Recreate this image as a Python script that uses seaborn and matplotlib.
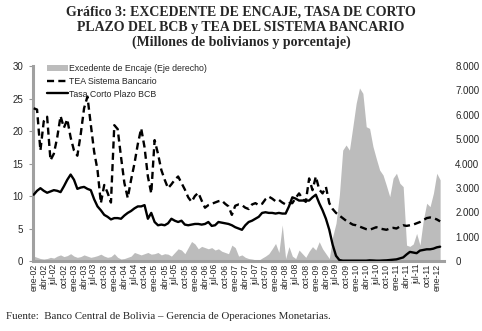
import numpy as np
import pandas as pd
import matplotlib
matplotlib.use("Agg")
import matplotlib.pyplot as plt
import seaborn as sns
from matplotlib.patches import Patch
from matplotlib.lines import Line2D
from matplotlib.ticker import FuncFormatter

# ---------------- data (monthly, ene-02 .. feb-12) ----------------
meses = ["ene", "feb", "mar", "abr", "may", "jun", "jul", "ago", "sep", "oct", "nov", "dic"]
periodos = [f"{meses[m]}-{y:02d}" for y in range(2, 13) for m in range(12)][:122]

tea_sistema = [
    23.5, 23.3, 17.0, 21.5, 22.2, 15.5, 16.5, 19.0, 22.3, 20.5, 21.8, 19.0,
    17.0, 16.2, 19.5, 23.5, 25.3, 21.0, 16.8, 14.0, 8.9, 11.7, 10.5, 9.0,
    20.9, 20.3, 16.0, 12.0, 9.7, 12.5, 15.0, 18.0, 20.4, 17.5, 13.0, 10.4,
    18.6, 16.5, 14.0, 12.5, 11.2, 11.8, 12.5, 13.0, 12.0, 11.0, 9.8, 9.1,
    10.0, 10.5, 9.3, 8.2, 8.6, 8.8, 9.0, 9.2, 9.3, 8.8, 8.4, 7.1,
    8.5, 8.7, 8.6, 8.2, 8.0, 8.7, 8.9, 8.6, 8.8, 9.5, 9.9, 9.6,
    9.2, 9.4, 9.0, 8.7, 8.9, 8.9, 9.7, 10.4, 9.6, 9.1, 12.7, 10.9,
    13.0, 11.0, 10.4, 11.4, 8.9, 8.0, 7.4, 7.0, 6.6, 6.2, 5.9, 5.6,
    5.5, 5.3, 5.1, 4.9, 4.8, 5.0, 5.2, 5.0, 4.9, 4.8, 5.0, 5.1,
    5.0, 5.3, 5.5, 5.4, 5.5, 5.6, 5.8, 6.0, 6.3, 6.6, 6.7, 6.6,
    6.4, 6.1,
]

tasa_bcb = [
    10.2, 10.8, 11.2, 10.8, 10.5, 10.7, 10.9, 10.8, 10.6, 11.5, 12.5, 13.3,
    12.5, 11.1, 11.3, 11.4, 11.1, 10.9, 9.5, 8.4, 7.8, 7.1, 6.8, 6.4,
    6.6, 6.6, 6.5, 7.0, 7.4, 7.7, 8.1, 8.4, 8.4, 8.6, 6.5, 7.4,
    6.0, 5.5, 5.6, 5.5, 5.8, 6.5, 6.2, 6.0, 6.2, 5.6, 5.5, 5.6,
    5.7, 5.7, 5.6, 5.7, 6.0, 5.4, 5.5, 6.0, 5.9, 5.8, 5.7, 5.5,
    5.2, 5.0, 4.8, 5.5, 6.0, 6.2, 6.5, 6.8, 7.4, 7.5, 7.4, 7.4,
    7.3, 7.4, 7.3, 7.3, 8.4, 9.8, 9.6, 9.3, 9.3, 9.3, 9.3, 9.8,
    10.2, 8.9, 7.8, 6.5, 4.8, 2.5, 0.8, 0.15, 0.05, 0.05, 0.05, 0.05,
    0.05, 0.05, 0.05, 0.05, 0.1, 0.08, 0.05, 0.05, 0.08, 0.1, 0.15, 0.2,
    0.25, 0.4, 0.55, 1.0, 1.4, 1.3, 1.2, 1.6, 1.7, 1.8, 1.8, 1.9,
    2.1, 2.2,
]

excedente = [
    200, 150, 100, 80, 100, 150, 120, 200, 250, 180, 220, 300,
    200, 150, 180, 250, 200, 150, 180, 220, 280, 200, 150, 180,
    300, 150, 80, 100, 150, 200, 350, 300, 250, 300, 350, 280,
    300, 350, 250, 300, 280, 200, 350, 500, 450, 300, 550, 800,
    700, 500, 600, 550, 500, 550, 450, 500, 400, 350, 300, 650,
    550, 200, 250, 150, 100, 80, 50, 30, 120, 200, 300, 500,
    720, 350, 1480, 100, 590, 200, 100, 450, 300, 150, 400, 590,
    450, 790, 500, 300, 100, 1000, 1550, 2700, 4550, 4760, 4550, 5500,
    6470, 7100, 6880, 5510, 5440, 4700, 4200, 3730, 3530, 3100, 2640, 3400,
    3600, 3190, 3050, 650, 600, 700, 1130, 650, 1680, 2370, 2230, 2780,
    3600, 3330,
]

titulo = ("Gráfico 3: EXCEDENTE DE ENCAJE, TASA DE CORTO\n"
          "PLAZO DEL BCB y TEA DEL SISTEMA BANCARIO\n"
          "(Millones de bolivianos y porcentaje)")
fuente = "Fuente:  Banco Central de Bolivia – Gerencia de Operaciones Monetarias."

etiquetas = {
    "exc": "Excedente de Encaje (Eje derecho)",
    "tea": "TEA Sistema Bancario",
    "bcb": "Tasa Corto Plazo BCB",
}

# ---------------- plotting ----------------
sns.set_theme(style="white")
plt.rcParams["font.family"] = ["Liberation Sans", "DejaVu Sans"]

df = pd.DataFrame({
    "idx": np.arange(len(periodos)),
    "periodo": periodos,
    "tea": tea_sistema,
    "bcb": tasa_bcb,
    "exc": excedente,
})

fig = plt.figure(figsize=(4.82, 3.31), dpi=100)
ax = fig.add_axes([0.0685, 0.2115, 0.853, 0.589])
ax2 = ax.twinx()

grey = "#bcbcbc"
ax2.fill_between(df["idx"], 0, df["exc"], color=grey, linewidth=0, zorder=1)

dash = (0, (3.0, 1.8))
sns.lineplot(data=df, x="idx", y="tea", ax=ax, color="black", linewidth=1.7,
             linestyle=dash, zorder=3)
sns.lineplot(data=df, x="idx", y="bcb", ax=ax, color="black", linewidth=1.7,
             zorder=4)

ax.set_zorder(ax2.get_zorder() + 1)
ax.patch.set_visible(False)

ax.set_xlim(-0.2, 122.2)
ax.set_ylim(0, 30)
ax2.set_ylim(0, 8000)
ax.set_yticks([0, 5, 10, 15, 20, 25, 30])
ax2.set_yticks(range(0, 8001, 1000))
ax2.yaxis.set_major_formatter(FuncFormatter(lambda v, p: f"{int(v):,}".replace(",", ".")))

ticks = list(range(0, 122, 3))
ax.set_xticks(ticks)
ax.set_xticklabels([periodos[i] for i in ticks], rotation=90, fontsize=6.2)
ax.set_xlabel("")
ax.set_ylabel("")
ax2.set_ylabel("")

ax.tick_params(axis="y", labelsize=7, length=3, width=0.8, color="#999999", pad=4, left=True)
ax.tick_params(axis="x", length=0, pad=2)
ax2.tick_params(axis="y", labelsize=7, length=0, pad=8)

for a in (ax, ax2):
    for s in ["top", "right"]:
        a.spines[s].set_visible(False)
ax2.spines["left"].set_visible(False)
ax2.spines["bottom"].set_visible(False)
ax.spines["left"].set_color("#a0a0a0")
ax.spines["left"].set_linewidth(2.2)
ax.spines["bottom"].set_color("#a0a0a0")
ax.spines["bottom"].set_linewidth(2.2)

handles = [
    Patch(facecolor=grey, edgecolor="none"),
    Line2D([0], [0], color="black", linewidth=1.7, linestyle=dash),
    Line2D([0], [0], color="black", linewidth=1.7),
]
ax.legend(handles, [etiquetas["exc"], etiquetas["tea"], etiquetas["bcb"]],
          loc="upper left", bbox_to_anchor=(0.025, 1.03), frameon=False,
          fontsize=6.3, handlelength=2.4, handletextpad=0.1,
          labelspacing=0.45, borderaxespad=0)

fig.text(0.5, 1 - 6 / 331, titulo, ha="center", va="top", fontsize=10,
         fontweight="bold", family=["Liberation Serif", "DejaVu Serif"],
         linespacing=1.18)
fig.text(0.012, 0.045, fuente, ha="left", va="center", fontsize=7.8,
         family=["Liberation Serif", "DejaVu Serif"])

fig.savefig("out.png", dpi=100)
